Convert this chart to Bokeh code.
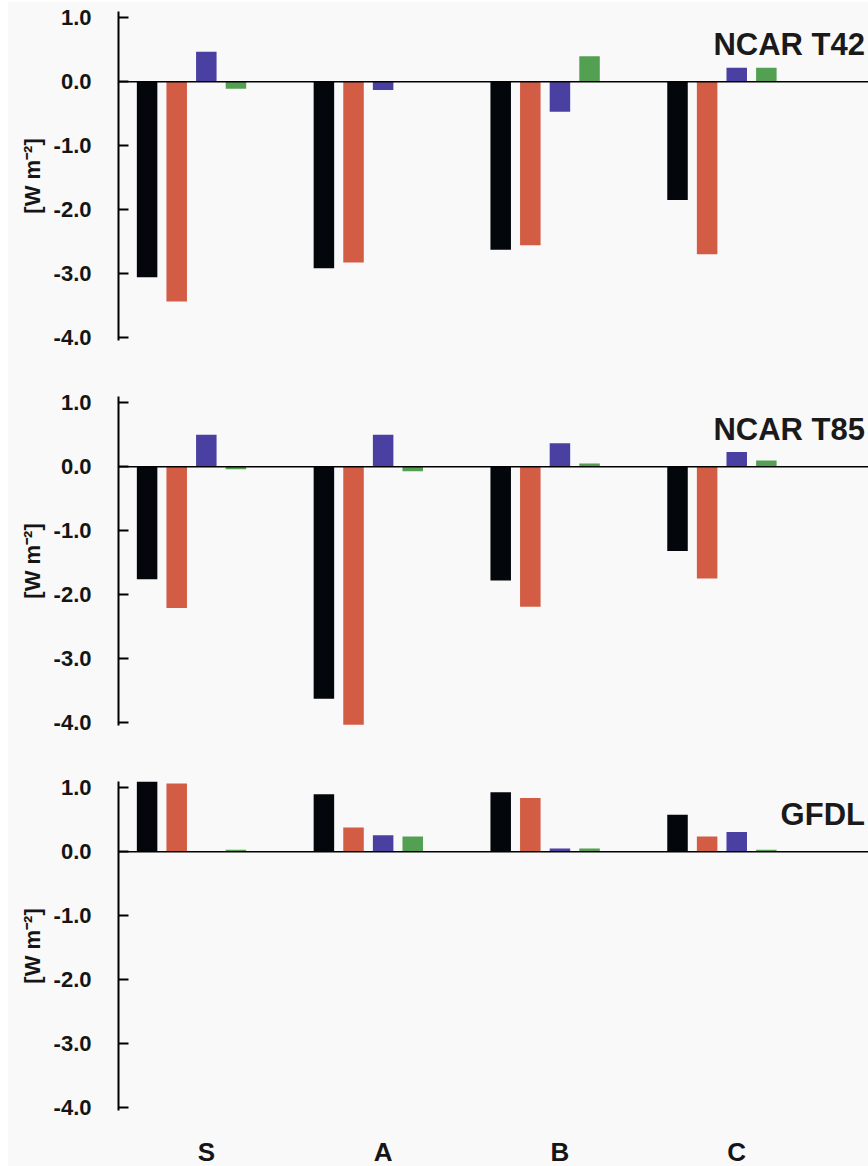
from bokeh.plotting import figure
from bokeh.models import Range1d, FixedTicker, PrintfTickFormatter, Span, Label
from bokeh.layouts import column
from bokeh.embed import file_html
from bokeh.resources import INLINE

categories = ["S", "A", "B", "C"]
series_colors = ["#03070b", "#d25c44", "#4a40a2", "#53a052"]

t42_black = [-3.06, -2.92, -2.63, -1.85]
t42_red = [-3.44, -2.83, -2.56, -2.70]
t42_blue = [0.47, -0.13, -0.47, 0.22]
t42_green = [-0.11, 0.01, 0.40, 0.22]

t85_black = [-1.76, -3.63, -1.78, -1.32]
t85_red = [-2.21, -4.04, -2.19, -1.75]
t85_blue = [0.50, 0.50, 0.37, 0.23]
t85_green = [-0.04, -0.07, 0.05, 0.10]

gfdl_black = [1.10, 0.90, 0.93, 0.58]
gfdl_red = [1.07, 0.38, 0.84, 0.24]
gfdl_blue = [0.0, 0.26, 0.05, 0.31]
gfdl_green = [0.03, 0.24, 0.05, 0.03]

y_ticks = [-4, -3, -2, -1, 0, 1]
panel_titles = ["NCAR T42", "NCAR T85", "GFDL"]
panels = [
    [t42_black, t42_red, t42_blue, t42_green],
    [t85_black, t85_red, t85_blue, t85_green],
    [gfdl_black, gfdl_red, gfdl_blue, gfdl_green],
]

BG = "#f9f9f9"
FONT = "Liberation Sans"
STEP = 0.1675
BAR_W = 0.116
X_START, X_END = -0.413, 3.829

figs = []
for k, (series, title) in enumerate(zip(panels, panel_titles)):
    last = k == len(panels) - 1
    p = figure(
        frame_width=750, frame_height=329,
        x_range=Range1d(X_START, X_END), y_range=Range1d(-4.05, 1.1),
        output_backend="svg", toolbar_location=None,
        background_fill_color=BG, border_fill_color=BG,
        outline_line_color=None,
        min_border_left=110, min_border_right=0,
        min_border_top=9 if k == 0 else 28,
        min_border_bottom=44 if last else 28,
    )
    p.grid.visible = False
    for j, vals in enumerate(series):
        xs = [i + (j - 1.5) * STEP for i in range(len(categories))]
        p.vbar(x=xs, top=vals, bottom=0, width=BAR_W,
               fill_color=series_colors[j], line_color=None)
    p.add_layout(Span(location=0, dimension="width", line_color="black", line_width=1.3))

    ya = p.yaxis[0]
    ya.ticker = FixedTicker(ticks=y_ticks)
    ya.formatter = PrintfTickFormatter(format="%.1f")
    ya.major_tick_in = 10
    ya.major_tick_out = 0
    ya.minor_tick_line_color = None
    ya.axis_line_width = 2
    ya.major_tick_line_width = 2
    ya.axis_line_color = "black"
    ya.major_tick_line_color = "black"
    ya.major_label_text_font = FONT
    ya.major_label_text_font_style = "bold"
    ya.major_label_text_font_size = "22px"
    ya.major_label_text_color = "#151515"
    ya.major_label_standoff = 27
    ya.axis_label = "[W m\u207b\u00b2]"
    ya.axis_label_text_font = FONT
    ya.axis_label_text_font_style = "bold"
    ya.axis_label_text_font_size = "22px"
    ya.axis_label_text_color = "#151515"
    ya.axis_label_standoff = 6

    xa = p.xaxis[0]
    if last:
        tick_pos = [round(i + 0.5 * STEP, 4) for i in range(len(categories))]
        xa.ticker = FixedTicker(ticks=tick_pos)
        xa.major_label_overrides = {t: c for t, c in zip(tick_pos, categories)}
        xa.axis_line_color = None
        xa.major_tick_line_color = None
        xa.minor_tick_line_color = None
        xa.major_label_text_font = FONT
        xa.major_label_text_font_style = "bold"
        xa.major_label_text_font_size = "26px"
        xa.major_label_text_color = "#151515"
        xa.major_label_standoff = 20
    else:
        xa.visible = False

    p.add_layout(Label(x=X_END - 0.02, y=0.58, text=title, text_align="right",
                       text_baseline="alphabetic", text_font=FONT,
                       text_font_style="bold", text_font_size="31px",
                       text_color="#1a1a1a"))
    figs.append(p)

layout = column(*figs, spacing=0,
                styles={"margin-left": "8px", "margin-top": "2px",
                        "background-color": BG})
open("out.html", "w").write(file_html(layout, INLINE))
